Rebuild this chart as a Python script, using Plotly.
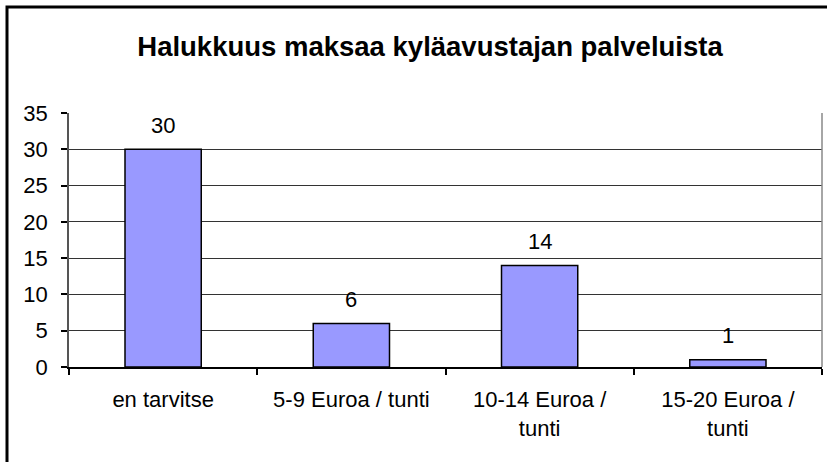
import plotly.graph_objects as go

categories = ["en tarvitse", "5-9 Euroa / tunti", "10-14 Euroa /<br>tunti", "15-20 Euroa /<br>tunti"]
values = [30, 6, 14, 1]
title_text = "Halukkuus maksaa kyläavustajan palveluista"

W, H = 827, 462
L, R, T, B = 69, 5, 113, 95
pw = W - L - R
ph = H - T - B
FONT = "Liberation Sans, Arial"
FS = 22

fig = go.Figure()
fig.add_trace(go.Bar(
    x=categories, y=values,
    marker=dict(color="#9999FF", line=dict(color="black", width=1.5)),
    width=0.405,
    hoverinfo="skip",
))

for c, v in zip(categories, values):
    fig.add_annotation(x=c, y=v, text=str(v), showarrow=False,
                       yanchor="middle", yshift=24,
                       font=dict(family=FONT, size=FS, color="black"))

# outer chart border (extends beyond canvas on right/bottom)
fig.add_shape(type="rect", xref="paper", yref="paper",
              x0=(7 - L) / pw, x1=(W + 5 - L) / pw,
              y0=(H - B - (H + 5)) / ph, y1=(H - B - 7) / ph,
              line=dict(color="black", width=3), fillcolor="rgba(0,0,0,0)", layer="below")
# right plot border
fig.add_shape(type="line", xref="paper", yref="paper", x0=1, x1=1, y0=0, y1=1,
              line=dict(color="#888888", width=1.5))

fig.update_layout(
    width=W, height=H,
    margin=dict(l=L, r=R, t=T, b=B),
    paper_bgcolor="white", plot_bgcolor="white",
    showlegend=False,
    title=dict(text="<b>" + title_text + "</b>", x=430 / W, xanchor="center",
               y=1 - 46 / H, yanchor="middle",
               font=dict(family=FONT, size=27.5, color="black")),
    font=dict(family=FONT, size=FS, color="black"),
    bargap=0.6,
)
fig.update_xaxes(
    type="category",
    showline=True, linecolor="black", linewidth=1.5,
    ticks="outside", tickson="boundaries", ticklen=6, tickcolor="black", tickwidth=1.5,
    showgrid=False,
    ticklabelstandoff=12,
    tickfont=dict(family=FONT, size=FS, color="black"),
)
fig.update_yaxes(
    range=[0, 35], dtick=5, tick0=0,
    showline=True, linecolor="#555555", linewidth=1.5,
    ticks="outside", ticklen=6, tickcolor="black", tickwidth=1.5,
    showgrid=True, gridcolor="#333333", gridwidth=1,
    zeroline=False,
    ticklabelstandoff=9,
    tickfont=dict(family=FONT, size=FS, color="black"),
)

fig.write_html("out.html", config={"displayModeBar": False},
               post_script="document.body.style.margin='0';")
